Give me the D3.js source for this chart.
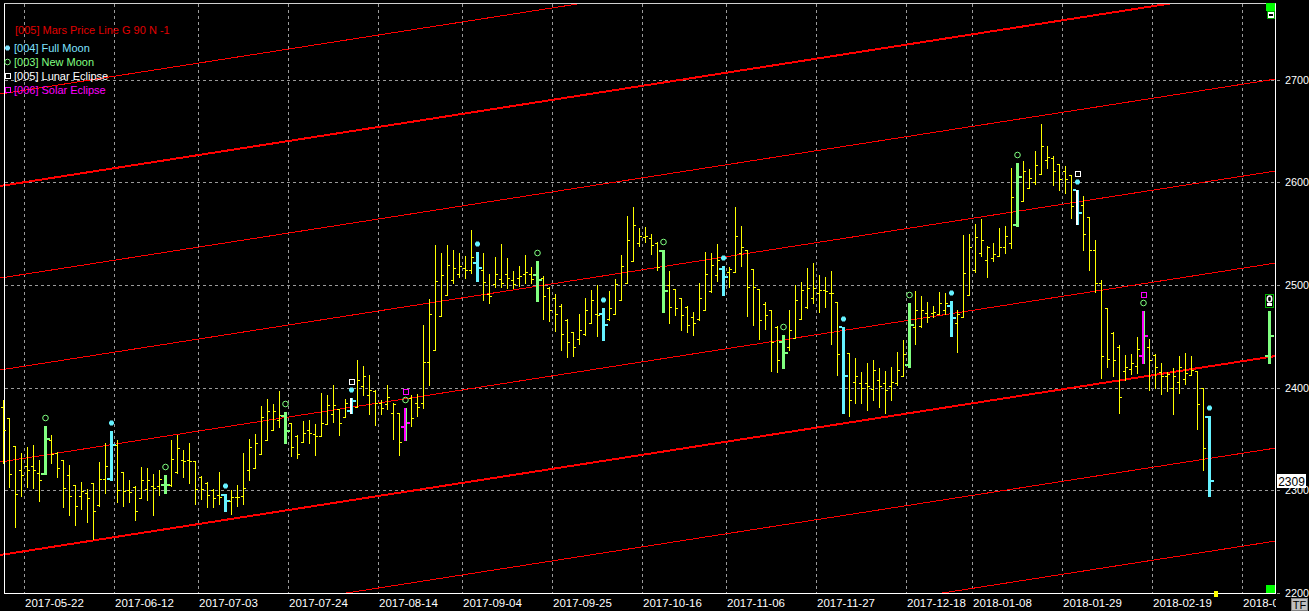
<!DOCTYPE html>
<html><head><meta charset="utf-8">
<script src="https://cdn.jsdelivr.net/npm/d3@7/dist/d3.min.js"></script>
<style>html,body{margin:0;padding:0;background:#000;overflow:hidden}svg{display:block}</style>
</head><body><svg id="c" width="1309" height="611"></svg>
<script>
// ---------- DATA ----------
const N = null;
const highs = [2388,2370,2343,2336,2342,2344,2329,2362,2354,2337,
2329,2324,2305,2308,2301,2307,2327,2346,2358,2349,
2318,2310,2304,2322,2321,2316,2320,2315,2349,2354,
2339,2346,2328,2314,2308,2301,2318,2296,2300,2305,
2336,2350,2355,2382,2389,2384,2397,2376,2365,2354,
2367,2368,2364,2395,2393,2402,2379,2389,2390,2427,
2421,2412,2398,2388,2402,2385,2375,2380,2393,2394,
2461,2486,2539,2531,2539,2534,2531,2528,2554,2532,
2531,2511,2527,2540,2526,2514,2519,2529,2518,2523,
2509,2498,2491,2481,2467,2454,2472,2487,2495,2500,
2478,2494,2506,2529,2567,2576,2556,2557,2550,2542,
2534,2514,2496,2487,2480,2474,2502,2532,2531,2540,
2519,2518,2576,2558,2534,2516,2496,2483,2476,2460,
2451,2476,2500,2503,2517,2521,2510,2508,2514,2483,
2459,2434,2429,2415,2424,2427,2419,2416,2420,2435,
2446,2482,2494,2489,2483,2480,2493,2492,2484,2476,
2549,2550,2560,2564,2538,2541,2556,2558,2614,2619,
2621,2613,2631,2657,2636,2626,2618,2616,2607,2593,
2587,2566,2544,2505,2478,2454,2441,2432,2433,2449,
2475,2447,2433,2424,2415,2419,2431,2434,2431,2416,
2400,2372,N,N,N,N,N,N,N,N,N,2475];
const lows = [2326,2303,2264,2294,2303,2302,2289,2316,2326,2313,
2283,2276,2266,2281,2269,2252,2284,2297,2310,2288,
2284,2288,2271,2292,2290,2276,2295,2297,2304,2317,
2313,2307,2286,2291,2283,2283,2286,2280,2277,2284,
2286,2310,2321,2335,2349,2359,2361,2346,2333,2331,
2347,2346,2334,2353,2364,2366,2354,2371,2375,2381,
2393,2374,2363,2374,2379,2350,2334,2349,2362,2372,
2380,2402,2437,2470,2490,2502,2508,2507,2512,2504,
2485,2482,2498,2498,2497,2497,2499,2502,2502,2484,
2467,2465,2455,2437,2430,2431,2442,2451,2463,2450,
2446,2466,2472,2485,2502,2523,2538,2542,2530,2515,
2474,2463,2471,2456,2454,2451,2466,2476,2493,2504,
2490,2498,2513,2519,2470,2461,2447,2457,2416,2415,
2419,2437,2448,2467,2478,2482,2474,2479,2442,2412,
2375,2372,2385,2385,2378,2388,2381,2375,2388,2402,
2411,2420,2442,2459,2464,2469,2472,2472,2450,2435,
2469,2490,2513,2528,2508,2523,2528,2531,2536,2558,
2582,2595,2599,2608,2614,2598,2593,2590,2565,2560,
2534,2515,2493,2409,2420,2411,2375,2407,2413,2414,
2424,2398,2400,2394,2397,2374,2395,2403,2412,2360,
2320,2294,N,N,N,N,N,N,N,N,N,2424];
const opens = [2381,2370,2343,2320,2323,2323,2317,2316,2349,2336,
2329,2315,2305,2294,2297,2307,2285,2311,2311,2344,
2318,2300,2303,2292,2301,2304,2304,2305,2305,2318,
2329,2329,2328,2313,2307,2300,2295,2295,2289,2293,
2294,2320,2321,2335,2349,2359,2368,2372,2365,2353,
2347,2359,2355,2353,2364,2374,2379,2371,2377,2381,
2401,2393,2397,2385,2384,2375,2375,2361,2390,2385,
2385,2425,2437,2470,2490,2505,2511,2517,2515,2521,
2515,2491,2501,2506,2511,2505,2507,2511,2511,2510,
2507,2497,2487,2480,2466,2454,2447,2452,2463,2472,
2472,2467,2472,2485,2502,2523,2541,2547,2546,2541,
2533,2500,2496,2487,2479,2469,2467,2476,2494,2510,
2516,2513,2513,2531,2534,2516,2496,2481,2476,2459,
2444,2440,2448,2467,2479,2487,2492,2495,2492,2483,
2459,2434,2405,2404,2404,2399,2407,2404,2401,2404,
2411,2422,2459,2460,2473,2473,2472,2476,2480,2463,
2469,2490,2515,2531,2524,2526,2528,2537,2541,2559,
2582,2595,2600,2608,2622,2624,2618,2611,2607,2593,
2578,2566,2534,2502,2478,2453,2440,2416,2418,2421,
2431,2440,2432,2415,2411,2400,2405,2408,2412,2416,
2400,2371,N,N,N,N,N,N,N,N,N,2431];
const closes = [2359,2316,2296,2315,2320,2320,2310,2350,2335,2321,
2302,2294,2284,2299,2292,2280,2311,2323,2344,2300,
2299,2298,2280,2310,2310,2302,2311,2305,2330,2341,
2328,2328,2301,2301,2295,2292,2293,2289,2293,2293,
2302,2342,2346,2371,2377,2377,2373,2358,2342,2335,
2356,2356,2353,2365,2383,2383,2365,2385,2387,2407,
2411,2398,2385,2380,2391,2384,2347,2365,2370,2381,
2425,2472,2504,2510,2520,2517,2519,2515,2527,2517,
2503,2489,2511,2502,2507,2501,2509,2513,2506,2505,
2489,2476,2472,2452,2444,2440,2456,2476,2485,2471,
2461,2478,2501,2519,2544,2559,2548,2548,2539,2518,
2494,2479,2478,2471,2461,2463,2487,2511,2520,2524,
2508,2516,2548,2537,2498,2498,2466,2471,2444,2427,
2434,2456,2485,2495,2497,2497,2495,2494,2492,2433,
2411,2388,2411,2400,2401,2417,2401,2398,2405,2417,
2433,2461,2476,2476,2469,2474,2482,2482,2468,2472,
2512,2537,2547,2544,2537,2530,2537,2548,2586,2605,
2611,2604,2617,2636,2625,2611,2603,2603,2577,2570,
2550,2534,2502,2431,2428,2427,2391,2420,2424,2438,
2450,2427,2420,2411,2413,2411,2420,2414,2417,2384,
2341,2309,N,N,N,N,N,N,N,N,N,2450];

const fullMoonIdx = [18,37,58,79,100,120,140,158,179,201];
const newMoonIdx = [7,27,47,67,89,110,130,151,169,190,211];
const lunarEclipseIdx = [58,179];
const solarEclipseIdx = [67,190];
const projectionIdx = [211];

const dateLabels = ["2017-05-22","2017-06-12","2017-07-03","2017-07-24","2017-08-14","2017-09-04","2017-09-25","2017-10-16","2017-11-06","2017-11-27","2017-12-18","2018-01-08","2018-01-29","2018-02-19","2018-03-12"];
const dateLabelIdx = [4,19,33,48,63,77,92,107,121,136,151,162,177,192,207];
const priceTicks = [2200,2300,2400,2500,2600,2700];
const lastPrice = 2309;

// Mars price lines (value at bar index -1 and at bar index 212)
const marsStartIdx = -1, marsEndIdx = 212;
const marsStart = [2055.7,2146.4,2236.2,2326.9,2416.7,2506.4,2596.2,2685.9];
const marsEnd   = [2250.2,2340.9,2430.7,2521.4,2611.2,2700.9,2790.7,2880.4];

const legendItems = [
  {label:"[004] Full Moon", color:"#7fe3ff", mark:"fm"},
  {label:"[003] New Moon", color:"#80ff80", mark:"nm"},
  {label:"[005] Lunar Eclipse", color:"#ffffff", mark:"le"},
  {label:"[006] Solar Eclipse", color:"#ff00ff", mark:"se"}
];

// ---------- DRAW ----------
const svg = d3.select("#c");
const FONT = "'Liberation Sans', Arial, sans-serif";
const P = {l:4, r:1275, t:3, b:593};
const x = d3.scaleLinear().domain([0,211]).range([3.5,1269.5]);
const y = d3.scaleLinear().domain([2200,2700]).range([592.5,80]);

svg.append("rect").attr("width",1309).attr("height",611).attr("fill","#000");

svg.append("defs").append("clipPath").attr("id","pc")
  .append("rect").attr("x",0).attr("y",P.t).attr("width",P.r).attr("height",P.b-P.t);
svg.select("defs").append("clipPath").attr("id","xc")
  .append("rect").attr("x",0).attr("y",590).attr("width",1276).attr("height",21);

// grid
const grid = svg.append("g").attr("stroke","#9a9a9a").attr("stroke-dasharray","3,3").attr("shape-rendering","crispEdges");
priceTicks.forEach(v=>{
  const yy = Math.round(y(v))+0.5;
  grid.append("line").attr("x1",P.l+1).attr("x2",1283).attr("y1",yy).attr("y2",yy);
});
dateLabelIdx.forEach(i=>{
  const xx = x(i)-3;
  grid.append("line").attr("x1",xx).attr("x2",xx).attr("y1",P.t+1).attr("y2",P.b);
});

// Mars price lines
const mars = svg.append("g").attr("clip-path","url(#pc)").attr("fill","none").attr("stroke","#ff0000").attr("shape-rendering","crispEdges");
const lineGen = d3.line().x(d=>x(d[0])).y(d=>y(d[1]));
marsStart.forEach((v,k)=>{
  mars.append("path").attr("d", lineGen([[marsStartIdx,v],[marsEndIdx,marsEnd[k]]]))
    .attr("stroke-width", (k%4===2)?2:1);
});

// borders
const bord = svg.append("g").attr("stroke","#ffffff").attr("shape-rendering","crispEdges");
bord.append("line").attr("x1",P.l+0.5).attr("x2",P.l+0.5).attr("y1",P.t).attr("y2",P.b+1);
bord.append("line").attr("x1",P.r+0.5).attr("x2",P.r+0.5).attr("y1",P.t).attr("y2",P.b+1);
bord.append("line").attr("x1",P.l).attr("x2",P.r+1).attr("y1",P.b+0.5).attr("y2",P.b+0.5);
bord.append("line").attr("x1",P.l).attr("x2",P.r+1).attr("y1",P.t+0.5).attr("y2",P.t+0.5).attr("stroke","#d0d0d0");

// bars
const bars = svg.append("g").attr("shape-rendering","crispEdges");
const has = (arr,i)=>arr.indexOf(i)>=0;
const CY="#66f2ff", GR="#80ff80", MG="#ff00ff", YE="#ffff00", WH="#ffffff";
function drawBar(i){
  if(highs[i]==null) return;
  const col = Math.floor(x(i));
  const yh = Math.round(y(highs[i])), yl = Math.round(y(lows[i]));
  const yo = Math.round(y(opens[i])), yc = Math.round(y(closes[i]));
  const fm = has(fullMoonIdx,i), nm = has(newMoonIdx,i), le = has(lunarEclipseIdx,i), se = has(solarEclipseIdx,i);
  if(!fm && !nm){
    bars.append("rect").attr("x",col).attr("y",yh).attr("width",1).attr("height",yl-yh+1).attr("fill",YE);
    bars.append("rect").attr("x",col-2).attr("y",yo).attr("width",2).attr("height",1).attr("fill",YE);
    bars.append("rect").attr("x",col+1).attr("y",yc).attr("width",2).attr("height",1).attr("fill",YE);
    return;
  }
  let c = fm ? CY : GR;
  bars.append("rect").attr("x",col-1).attr("y",yh).attr("width",3).attr("height",yl-yh+1).attr("fill",c);
  if(le){ bars.append("rect").attr("x",col-1).attr("y",yh).attr("width",2).attr("height",yl-yh+1).attr("fill",WH); }
  if(se){ bars.append("rect").attr("x",col-1).attr("y",yh).attr("width",2).attr("height",yl-yh+1).attr("fill",MG); c = MG; }
  bars.append("rect").attr("x",col-4).attr("y",yo-1).attr("width",3).attr("height",2).attr("fill",c);
  bars.append("rect").attr("x",col+2).attr("y",yc-1).attr("width",3).attr("height",2).attr("fill",c);
}
for(let i=0;i<highs.length;i++) drawBar(i);

// markers
const mk = svg.append("g");
function fmMark(g,cx,cy,color){
  g.append("rect").attr("x",cx-2.5).attr("y",cy-1.5).attr("width",5).attr("height",3).attr("fill",color);
  g.append("rect").attr("x",cx-1.5).attr("y",cy-2.5).attr("width",3).attr("height",5).attr("fill",color);
}
function nmMark(g,cx,cy,color){
  g.append("circle").attr("cx",cx).attr("cy",cy).attr("r",2.8).attr("fill","none").attr("stroke",color).attr("stroke-width",1);
}
function sqMark(g,cx,cy,color){
  g.append("rect").attr("x",cx-2.5).attr("y",cy-2.5).attr("width",5).attr("height",5).attr("fill","none").attr("stroke",color).attr("stroke-width",1).attr("shape-rendering","crispEdges");
}
fullMoonIdx.forEach(i=>{ if(highs[i]!=null) fmMark(mk, Math.floor(x(i))+0.5, Math.round(y(highs[i]))-8, CY); });
newMoonIdx.forEach(i=>{ if(highs[i]!=null && !has(projectionIdx,i)) nmMark(mk, Math.floor(x(i))+0.5, Math.round(y(highs[i]))-8, GR); });
lunarEclipseIdx.forEach(i=>{ sqMark(mk, Math.floor(x(i))+0.5, Math.round(y(highs[i]))-16, WH); });
solarEclipseIdx.forEach(i=>{ sqMark(mk, Math.floor(x(i))+0.5, Math.round(y(highs[i]))-16, MG); });
projectionIdx.forEach(i=>{
  const cx = Math.floor(x(i))+0.5, cy = Math.round(y(highs[i]))-10;
  mk.append("rect").attr("x",cx-4).attr("y",cy-7).attr("width",8).attr("height",13).attr("fill","#000").attr("stroke","#00b000").attr("shape-rendering","crispEdges");
  mk.append("ellipse").attr("cx",cx).attr("cy",cy-2).attr("rx",2.2).attr("ry",3).attr("fill","none").attr("stroke","#fff").attr("stroke-width",1.5);
  mk.append("rect").attr("x",cx-2.5).attr("y",cy+2).attr("width",5).attr("height",3).attr("fill","#fff");
});

// right side markers
svg.append("rect").attr("x",1266).attr("y",3).attr("width",9).attr("height",8).attr("fill","#00ff00");
svg.append("rect").attr("x",1267.5).attr("y",11.5).attr("width",7).attr("height",7).attr("fill","#fff").attr("stroke","#00a000").attr("shape-rendering","crispEdges");
svg.append("rect").attr("x",1269).attr("y",14).attr("width",4).attr("height",2).attr("fill","#000");
svg.append("rect").attr("x",1266).attr("y",585).attr("width",9).attr("height",8).attr("fill","#00ff00");
svg.append("rect").attr("x",1214).attr("y",591).attr("width",4).attr("height",6).attr("fill","#ffff00");

// price axis labels
const ax = svg.append("g").attr("font-family",FONT).attr("font-size",10.8).attr("fill","#ffffff");
priceTicks.forEach(v=>{
  ax.append("text").attr("x",1285).attr("y",Math.round(y(v))+4).text(v);
});
// last price box
svg.append("rect").attr("x",1277).attr("y",Math.round(y(lastPrice))-7).attr("width",29).attr("height",14).attr("fill","#ffffff");
svg.append("text").attr("x",1291.5).attr("y",Math.round(y(lastPrice))+4.5).attr("text-anchor","middle")
  .attr("font-family",FONT).attr("font-size",12).attr("fill","#000").text(lastPrice);

// date labels
const xl = svg.append("g").attr("clip-path","url(#xc)").attr("font-family",FONT).attr("font-size",11.5).attr("fill","#ffffff");
dateLabels.forEach((t,k)=>{
  xl.append("text").attr("x",x(dateLabelIdx[k])-2.5).attr("y",607).text(t);
});

// TF box
svg.append("rect").attr("x",1291.5).attr("y",598.5).attr("width",16).attr("height",12).attr("fill","#c0c0c0").attr("stroke","#808080");
svg.append("text").attr("x",1299.5).attr("y",609).attr("text-anchor","middle").attr("font-family",FONT).attr("font-size",11).attr("fill","#000").text("TF");

// legend
const lg = svg.append("g").attr("font-family",FONT).attr("font-size",11);
lg.append("text").attr("x",15).attr("y",34).attr("fill","#e00000").text("[005] Mars Price Line G 90 N -1");
legendItems.forEach((it,k)=>{
  const cy = 48 + k*14;
  if(it.mark==="fm") fmMark(lg, 7.5, cy, it.color);
  if(it.mark==="nm") nmMark(lg, 7.5, cy, it.color);
  if(it.mark==="le"||it.mark==="se") sqMark(lg, 7.5, cy, it.color);
  lg.append("text").attr("x",14).attr("y",cy+4).attr("fill",it.color).text(it.label);
});
</script>
</body></html>
